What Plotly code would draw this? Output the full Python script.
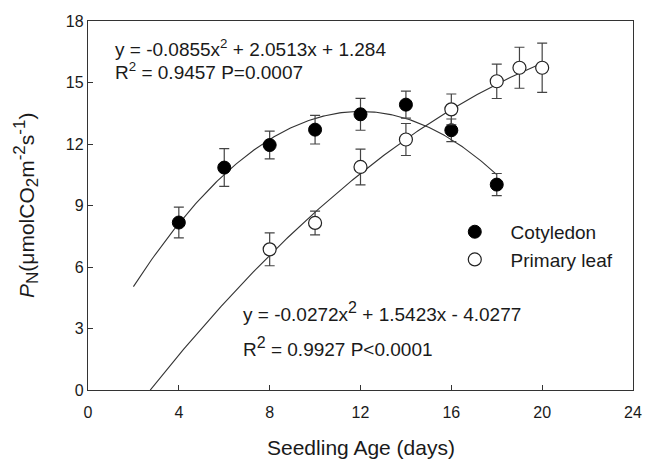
import numpy as np
import plotly.graph_objects as go

# Data
cot_x = [4, 6, 8, 10, 12, 14, 16, 18]
cot_y = [8.17, 10.85, 11.95, 12.70, 13.45, 13.92, 12.67, 10.02]
cot_err = [0.75, 0.92, 0.68, 0.70, 0.78, 0.66, 0.55, 0.54]

leaf_x = [8, 10, 12, 14, 16, 18, 19, 20]
leaf_y = [6.86, 8.15, 10.88, 12.22, 13.69, 15.06, 15.72, 15.72]
leaf_err = [0.80, 0.58, 0.87, 0.78, 0.75, 0.84, 1.00, 1.20]

# Quadratic fit coefficients (a, b, c) shown on the chart, and the fit domain
cot_coef = [-0.0855, 2.0513, 1.284]
cot_range = [2, 18]
leaf_coef = [-0.0272, 1.5423, -4.0277]
leaf_range = [2.74, 20]

x_ticks = [0, 4, 8, 12, 16, 20, 24]
y_ticks = [0, 3, 6, 9, 12, 15, 18]

FONT = "Liberation Sans, Arial, sans-serif"
INK = "#1a1a1a"
NB = "\u00a0"


def fit_curve(coef, rng):
    xs = np.linspace(rng[0], rng[1], 200)
    ys = coef[0] * xs ** 2 + coef[1] * xs + coef[2]
    return xs, ys


fig = go.Figure()

cx, cy = fit_curve(cot_coef, cot_range)
fig.add_trace(go.Scatter(x=cx, y=cy, mode="lines", line=dict(color="#333333", width=1.1),
                         showlegend=False, hoverinfo="skip"))
lx, ly = fit_curve(leaf_coef, leaf_range)
fig.add_trace(go.Scatter(x=lx, y=ly, mode="lines", line=dict(color="#333333", width=1.1),
                         showlegend=False, hoverinfo="skip"))

fig.add_trace(go.Scatter(
    x=cot_x, y=cot_y, mode="markers", name=NB * 3 + "Cotyledon",
    marker=dict(symbol="circle", size=13, color="black", line=dict(color="black", width=1)),
    error_y=dict(type="data", array=cot_err, visible=True, color="#444444", thickness=1.2, width=5),
))
fig.add_trace(go.Scatter(
    x=leaf_x, y=leaf_y, mode="markers", name=NB * 3 + "Primary leaf",
    marker=dict(symbol="circle", size=13, color="white", line=dict(color="#222222", width=1.2)),
    error_y=dict(type="data", array=leaf_err, visible=True, color="#444444", thickness=1.2, width=5),
))

ann_font = dict(size=19, family=FONT, color=INK)
big_sup = "<sup><span style='font-size:16px'>2</span></sup>"

L, R, T, B, W, H = 88, 12, 21, 74, 645, 464
pw, ph = W - L - R, H - T - B

fig.update_layout(
    width=W, height=H,
    margin=dict(l=L, r=R, t=T, b=B, autoexpand=False),
    paper_bgcolor="white", plot_bgcolor="white",
    font=dict(family=FONT, size=16, color=INK),
    showlegend=True,
    legend=dict(x=0.673, y=0.48, xanchor="left", yanchor="top",
                bgcolor="rgba(0,0,0,0)", font=dict(size=19, family=FONT, color=INK),
                tracegroupgap=0),
    xaxis=dict(
        range=[0, 24], tickvals=x_ticks, ticktext=[str(v) for v in x_ticks],
        showline=True, linecolor="#333333", linewidth=1.3, mirror=True,
        ticks="inside", ticklen=5, tickcolor="#333333", showgrid=False, zeroline=False,
        tickfont=dict(size=16, family=FONT, color=INK), automargin=False,
        ticklabelstandoff=8,
    ),
    yaxis=dict(
        range=[0, 18], tickvals=y_ticks, ticktext=[str(v) for v in y_ticks],
        showline=True, linecolor="#333333", linewidth=1.3, mirror=True,
        ticks="inside", ticklen=5, tickcolor="#333333", showgrid=False, zeroline=False,
        tickfont=dict(size=16, family=FONT, color=INK), automargin=False,
    ),
    annotations=[
        dict(x=1.12, y=16.7, xref="x", yref="y", xanchor="left", yanchor="middle", showarrow=False,
             text="y = -0.0855x<sup>2</sup> + 2.0513x + 1.284", font=ann_font),
        dict(x=1.12, y=15.58, xref="x", yref="y", xanchor="left", yanchor="middle", showarrow=False,
             text="R<sup>2</sup> = 0.9457 P=0.0007", font=ann_font),
        dict(x=6.75, y=3.8, xref="x", yref="y", xanchor="left", yanchor="middle", showarrow=False,
             text="y = -0.0272x" + big_sup + " + 1.5423x - 4.0277", font=ann_font),
        dict(x=6.75, y=2.1, xref="x", yref="y", xanchor="left", yanchor="middle", showarrow=False,
             text="R" + big_sup + " = 0.9927 P<0.0001", font=ann_font),
        # axis titles (pixel positions converted to paper coordinates)
        dict(x=0.5, y=(H - B - 447) / ph, xref="paper", yref="paper", showarrow=False,
             text="Seedling Age (days)", font=dict(size=21, family=FONT, color=INK),
             xanchor="center", yanchor="middle"),
        dict(x=(26 - L) / pw, y=(H - B - 206) / ph, xref="paper", yref="paper", showarrow=False,
             textangle=-90,
             text=("<i>P</i><sub><span style='font-size:17px'>N</span></sub>(μmolCO"
                   "<sub><span style='font-size:17px'>2</span></sub>m"
                   "<sup><span style='font-size:17px'>-2</span></sup>s"
                   "<sup><span style='font-size:17px'>-1</span></sup>)"),
             font=dict(size=21, family=FONT, color=INK), xanchor="center", yanchor="middle"),
    ],
)

fig.write_html("out.html",
               config={"displayModeBar": False},
               post_script="document.body.style.margin='0';document.body.style.overflow='hidden';")
